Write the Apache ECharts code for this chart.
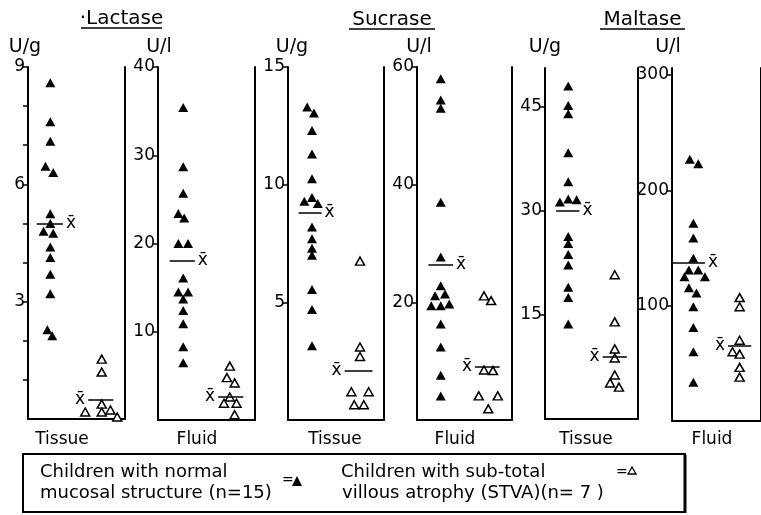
<!DOCTYPE html>
<html><head><meta charset="utf-8">
<script src="https://cdn.jsdelivr.net/npm/echarts@6/dist/echarts.min.js"></script>
<style>html,body{margin:0;padding:0;background:#fff}#c{width:761px;height:515px}</style>
</head><body><div id="c"></div>
<script>
// ---------------- data ----------------
const enzymes = ['\u00b7Lactase', 'Sucrase', 'Maltase'];
const sampleTypes = ['Tissue', 'Fluid', 'Tissue', 'Fluid', 'Tissue', 'Fluid'];
const units = ['U/g', 'U/l', 'U/g', 'U/l', 'U/g', 'U/l'];
const yMax = [9, 40, 15, 60, 50.6, 306];
const tickValues = [[1,2,3,4,5,6,7,8,9],[10,20,30,40],[5,10,15],[20,40,60],[15,30,45],[100,200,300]];
const tickLabels = [[3,6,9],[10,20,30,40],[5,10,15],[20,40,60],[15,30,45],[100,200,300]];
const meanSymbol = 'x\u0304';

// Lactase – tissue
const lacTisNormal = [8.6,7.6,7.1,6.46,6.3,5.25,5.0,4.8,4.75,4.4,4.13,3.7,3.2,2.28,2.13];
const lacTisNormalCol = [23,23,23,18,26,23,23,16,26,23,23,23,23,20,25];
const lacTisStva = [1.53,1.2,0.38,0.18,0.18,0.23,0.05];
const lacTisStvaCol = [76,76,76,59,76,85,92];
// Lactase – fluid
const lacFluNormal = [35.4,28.7,25.7,23.4,22.9,20.0,20.0,16.1,14.5,14.5,13.7,12.4,10.9,8.3,6.5];
const lacFluNormalCol = [26,26,26,21,27,21,31,26,21,31,26,26,26,26,26];
const lacFluStva = [6.1,4.8,4.2,2.6,1.9,1.9,0.6];
const lacFluStvaCol = [74,71,79,74,68,81,79];
// Sucrase – tissue
const sucTisNormal = [13.3,13.05,12.3,11.3,10.25,9.45,9.3,9.2,8.2,7.7,7.3,7.0,5.55,4.7,3.15];
const sucTisNormalCol = [20,27,25,25,25,25,17,31,25,25,25,25,25,25,25];
const sucTisStva = [6.75,3.1,2.7,1.2,1.2,0.65,0.65];
const sucTisStvaCol = [75,75,75,66,84,69,79];
// Sucrase – fluid
const sucFluNormal = [58,54.4,53,37,27.7,22.8,21.4,21.1,19.7,19.4,19.4,16.3,12.4,7.6,4.1];
const sucFluNormalCol = [25,25,25,25,25,25,29.5,19,34,15,25,25,25,25,25];
const sucFluStva = [21.1,20.3,8.5,8.4,4.1,4.1,1.9];
const sucFluStvaCol = [70.5,78,70.5,80,65,85,75];
// Maltase – tissue
const malTisNormal = [48,45.2,44,38.4,34.2,31.7,31.6,31.3,26.3,25.3,23.7,22.2,19.0,17.5,13.7];
const malTisNormalCol = [25,25,25,25,25,25,34,16,25,25,25,25,25,25,25];
const malTisStva = [20.8,14.0,10.1,8.8,6.35,5.2,4.6];
const malTisStvaCol = [75,75,75,75,75,70,79.5];
// Maltase – fluid
const malFluNormal = [227,223,171.5,158.6,141,131,131,125,125,115.5,111,99,81,60,33.6];
const malFluNormalCol = [20,29.5,24,24,24,19,29.5,14,37,19,27.5,24,24,24,24];
const malFluStva = [107,99,70,60,58,46.5,38];
const malFluStvaCol = [76,76,76,68,76,76,76];

// group means (x-bar)
const meanNormal = [5.0, 18.1, 8.8, 26.4, 30.0, 137];
const meanStva = [0.49, 2.6, 2.1, 9.0, 8.95, 65.5];

const normalSets = [[lacTisNormal,lacTisNormalCol],[lacFluNormal,lacFluNormalCol],[sucTisNormal,sucTisNormalCol],[sucFluNormal,sucFluNormalCol],[malTisNormal,malTisNormalCol],[malFluNormal,malFluNormalCol]];
const stvaSets = [[lacTisStva,lacTisStvaCol],[lacFluStva,lacFluStvaCol],[sucTisStva,sucTisStvaCol],[sucFluStva,sucFluStvaCol],[malTisStva,malTisStvaCol],[malFluStva,malFluStvaCol]];

// ---------------- layout ----------------
const FONT = 'DejaVu Sans';
const gridBoxes = [
  {left:28, top:67, width:97, height:352},
  {left:158, top:67, width:97, height:353},
  {left:288, top:67, width:96, height:353},
  {left:417, top:67, width:95, height:353},
  {left:545, top:68, width:93, height:351},
  {left:672, top:68, width:95, height:353}
];
const normalMeanSpan = [[9,36],[12,38],[11,35],[12,38],[12,37],[0,37]];
const stvaMeanSpan = [[62,88],[62,88],[59,88],[61,87],[62,88],[63,89]];
const bottomLabelX = [62,197,335,455,586,712];
const unitX = [25,159,292,419,545,668];
const titleBoxes = [[81,162,28],[349,435,29],[600,685,29]];

const grid = [], xAxis = [], yAxis = [], series = [];
gridBoxes.forEach((g, i) => {
  grid.push(Object.assign({containLabel:false}, g));
  xAxis.push({gridIndex:i, type:'value', min:0, max:100,
    axisLine:{show:true, onZero:false, lineStyle:{color:'#000', width:2}},
    axisTick:{show:false}, axisLabel:{show:false}, splitLine:{show:false}});
  yAxis.push({gridIndex:i, type:'value', min:0, max:yMax[i], position:'left',
    axisLine:{show:true, lineStyle:{color:'#000', width:2}},
    axisTick:{show:true, length:5, customValues:tickValues[i], lineStyle:{color:'#000', width:1.5}},
    axisLabel:{show:true, customValues:tickLabels[i], color:'#000', fontSize:17, fontFamily:FONT, margin:3},
    splitLine:{show:false}});
  yAxis.push({gridIndex:i, type:'value', min:0, max:1, position:'right',
    axisLine:{show:true, lineStyle:{color:'#000', width:2}},
    axisTick:{show:false}, axisLabel:{show:false}, splitLine:{show:false}});
  const yIdx = i * 2;
  const mk = (mean, span, pos) => ({
    silent:true, symbol:['none','none'], animation:false,
    lineStyle:{color:'#000', width:1.5, type:'solid', opacity:1},
    label:{show:true, formatter:meanSymbol, position:pos, color:'#000', fontSize:17, fontFamily:FONT, distance:3},
    emphasis:{disabled:true},
    data:[[{coord:[span[0], mean]}, {coord:[span[1], mean]}]]
  });
  const [nv, nc] = normalSets[i];
  series.push({type:'scatter', xAxisIndex:i, yAxisIndex:yIdx, name:'normal',
    symbol:'triangle', symbolSize:[10,9], itemStyle:{color:'#000', opacity:1},
    data: nv.map((v, k) => [nc[k], v]), z:3,
    markLine: mk(meanNormal[i], normalMeanSpan[i], 'end')});
  const [sv, sc] = stvaSets[i];
  series.push({type:'scatter', xAxisIndex:i, yAxisIndex:yIdx, name:'stva',
    symbol:'triangle', symbolSize:[9,8], itemStyle:{color:'#fff', borderColor:'#000', borderWidth:1.5, opacity:1},
    data: sv.map((v, k) => [sc[k], v]), z:3,
    markLine: mk(meanStva[i], stvaMeanSpan[i], 'start')});
});

const graphic = [];
enzymes.forEach((t, i) => {
  const [x1, x2, uy] = titleBoxes[i];
  graphic.push({type:'text', x:(x1+x2)/2, y:uy-9, style:{text:t, font:'20px "'+FONT+'"', fill:'#000', textAlign:'center', textVerticalAlign:'middle'}});
  graphic.push({type:'line', shape:{x1:x1, y1:uy, x2:x2, y2:uy}, style:{stroke:'#000', lineWidth:1.5}});
});
units.forEach((u, i) => {
  graphic.push({type:'text', x:unitX[i], y:47, style:{text:u, font:'19px "'+FONT+'"', fill:'#000', textAlign:'center', textVerticalAlign:'middle'}});
});
sampleTypes.forEach((s, i) => {
  graphic.push({type:'text', x:bottomLabelX[i], y:440, style:{text:s, font:'17px "'+FONT+'"', fill:'#000', textAlign:'center', textVerticalAlign:'middle'}});
});
// legend box
graphic.push({type:'rect', shape:{x:23, y:454, width:662, height:58}, style:{fill:'none', stroke:'#000', lineWidth:2}});
graphic.push({type:'line', shape:{x1:685, y1:455, x2:685, y2:513}, style:{stroke:'#000', lineWidth:3}});
const legFont = '18px "'+FONT+'"';
graphic.push({type:'text', x:40, y:472, style:{text:'Children with normal', font:legFont, fill:'#000', textVerticalAlign:'middle'}});
graphic.push({type:'text', x:40, y:493, style:{text:'mucosal structure (n=15)', font:legFont, fill:'#000', textVerticalAlign:'middle'}});
graphic.push({type:'text', x:282, y:480, style:{text:'=', font:'14px "'+FONT+'"', fill:'#000', textVerticalAlign:'middle'}});
graphic.push({type:'polygon', shape:{points:[[297,476],[292,486],[302,486]]}, style:{fill:'#000'}});
graphic.push({type:'text', x:341, y:472, style:{text:'Children with sub-total', font:legFont, fill:'#000', textVerticalAlign:'middle'}});
graphic.push({type:'text', x:342, y:493, style:{text:'villous atrophy (STVA)(n= 7 )', font:legFont, fill:'#000', textVerticalAlign:'middle'}});
graphic.push({type:'text', x:616, y:472, style:{text:'=', font:'14px "'+FONT+'"', fill:'#000', textVerticalAlign:'middle'}});
graphic.push({type:'polygon', shape:{points:[[632,467],[628,474],[636,474]]}, style:{fill:'#fff', stroke:'#000', lineWidth:1.3}});

const chart = echarts.init(document.getElementById('c'), null, {renderer:'canvas'});
chart.setOption({
  animation:false,
  backgroundColor:'#fff',
  textStyle:{fontFamily:FONT},
  grid, xAxis, yAxis, series, graphic
});
</script></body></html>
